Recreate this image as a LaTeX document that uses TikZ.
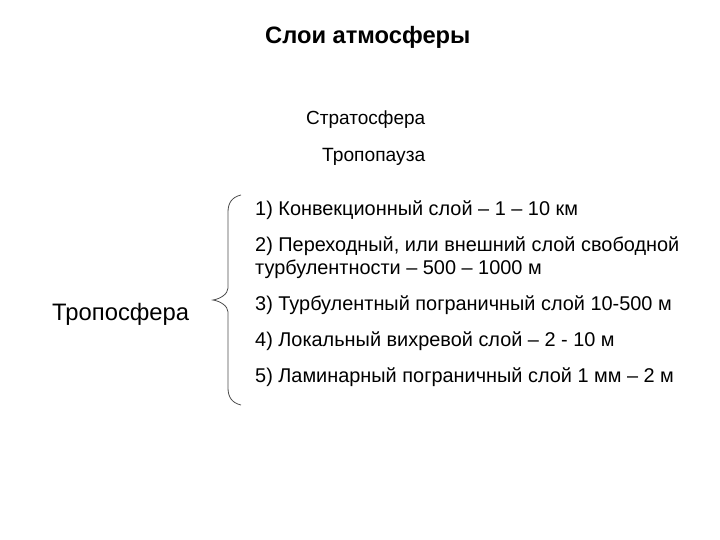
\documentclass[tikz,border=0pt]{standalone}
\usepackage{fontspec}
\setmainfont{Liberation Sans}
\begin{document}
\begin{tikzpicture}[x=1pt,y=-1pt,
  lbl/.style={anchor=base west,inner sep=0pt,font=\fontsize{19.9}{24}\selectfont},
  brace/.style={draw=black!70,line width=0.8pt}]
\useasboundingbox (0,0) rectangle (720,540);
\node[anchor=base west,inner sep=0pt,font=\fontsize{23.7}{28}\bfseries\selectfont] (title) at (265,43.5) {Слои атмосферы};
\node[anchor=base west,inner sep=0pt,font=\fontsize{19}{22}\selectfont] (strat) at (306,125) {Стратосфера};
\node[anchor=base west,inner sep=0pt,font=\fontsize{19.2}{22}\selectfont] (tropop) at (322,162) {Тропопауза};
\node[anchor=base west,inner sep=0pt,font=\fontsize{23.8}{28}\selectfont] (tropo) at (52,320.5) {Тропосфера};
\node[lbl] (l1) at (255,215) {1) Конвекционный слой -- 1 -- 10 км};
\node[lbl] (l2) at (255,251.5) {2) Переходный, или внешний слой свободной};
\node[lbl] (l2b) at (255,274.5) {турбулентности -- 500 -- 1000 м};
\node[lbl] (l3) at (255,310.5) {3) Турбулентный пограничный слой 10-500 м};
\node[lbl] (l4) at (255,346.5) {4) Локальный вихревой слой -- 2 - 10 м};
\node[lbl] (l5) at (255,382.5) {5) Ламинарный пограничный слой 1 мм -- 2 м};
\draw[brace] (241,195) .. controls (232,197) and (228,203) .. (228,212)
  -- (228,288) .. controls (228,294) and (220,299) .. (213,300)
  .. controls (220,301) and (228,306) .. (228,312)
  -- (228,388) .. controls (228,397) and (232,403) .. (241,405);
\end{tikzpicture}
\end{document}
